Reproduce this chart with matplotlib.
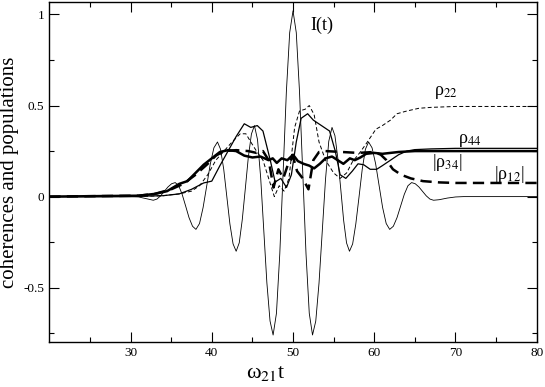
import matplotlib
matplotlib.use("Agg")
import matplotlib.pyplot as plt

plt.rcParams["font.family"] = ["Liberation Serif", "DejaVu Serif"]
plt.rcParams["mathtext.fontset"] = "stix"

# I(t): thin solid field trace
T_I = [20, 30, 31, 32, 32.8, 33.25, 33.7, 34.15, 34.6, 35.05, 35.5,
       35.93, 36.35, 36.78, 37.2, 37.63, 38.05,
       38.49, 38.93, 39.38, 39.82, 40.26, 40.7,
       41.08, 41.47, 41.85, 42.23, 42.62, 43.0,
       43.38, 43.75, 44.13, 44.5, 44.88, 45.25,
       45.63, 46.02, 46.4, 46.78, 47.17, 47.55,
       47.96, 48.37, 48.78, 49.18, 49.59, 50.0,
       50.4, 50.8, 51.2, 51.6, 52.0, 52.4,
       52.8, 53.2, 53.6, 54.0, 54.4, 54.8,
       55.16, 55.52, 55.88, 56.23, 56.59, 56.95,
       57.34, 57.73, 58.13, 58.52, 58.91, 59.3,
       59.73, 60.17, 60.6, 61.03, 61.47, 61.9,
       62.35, 62.8, 63.25, 63.7, 64.15, 64.6,
       65.05, 65.5, 65.95, 66.4, 66.85, 67.3,
       68, 69, 70, 71, 80]
I_T = [0, 0, -0.002, -0.012, -0.02, -0.0135, 0.0043, 0.0285, 0.0528, 0.0705, 0.077,
       0.0598, 0.0127, -0.0515, -0.1158, -0.1628, -0.18,
       -0.1478, -0.06, 0.06, 0.18, 0.268, 0.30,
       0.2598, 0.15, 0.0, -0.15, -0.2598, -0.30,
       -0.2538, -0.1275, 0.045, 0.2175, 0.3438, 0.39,
       0.313, 0.1025, -0.185, -0.4725, -0.683, -0.76,
       -0.6407, -0.315, 0.13, 0.575, 0.9007, 1.02,
       0.9007, 0.575, 0.13, -0.315, -0.6407, -0.76,
       -0.6836, -0.475, -0.19, 0.095, 0.3036, 0.38,
       0.3344, 0.21, 0.04, -0.13, -0.2544, -0.30,
       -0.2598, -0.15, 0.0, 0.15, 0.2598, 0.30,
       0.268, 0.18, 0.06, -0.06, -0.1478, -0.18,
       -0.1628, -0.1158, -0.0515, 0.0127, 0.0598, 0.077,
       0.0705, 0.0528, 0.0285, 0.0043, -0.0135, -0.02,
       -0.017, -0.008, -0.002, 0.0, 0.0]

# rho_22: thin dashed
T_R22 = [20, 32, 34, 36, 37.5, 38.5, 39.5, 40.5, 41.5, 42.5, 43.5, 44.2, 44.8,
         45.5, 46.3, 47, 47.7, 48.3, 48.9, 49.5, 50.2, 50.8, 51.5, 52, 52.6,
         53.2, 54, 55, 55.8, 56.6, 57.3, 58.2, 59, 59.6, 60.2, 61, 62, 62.8,
         64, 65.5, 67, 70, 80]
R22 = [0, 0.002, 0.005, 0.015, 0.03, 0.06, 0.12, 0.2, 0.25, 0.3, 0.345, 0.345, 0.3,
       0.25, 0.2, 0.1, 0.0, 0.06, 0.03, 0.1, 0.38, 0.47, 0.48, 0.5, 0.45,
       0.3, 0.2, 0.13, 0.1, 0.13, 0.19, 0.24, 0.29, 0.33, 0.37, 0.39, 0.42, 0.455,
       0.47, 0.485, 0.49, 0.495, 0.495]

# rho_44: thin solid
T_R44 = [20, 30, 32, 34, 36, 37.5, 39, 40, 41, 42, 43, 44, 44.8, 45.6, 46.3,
         47.2, 47.8, 48.5, 49.2, 49.8, 50.4, 51, 51.8, 52.5, 53.5, 54.5, 55.2,
         55.8, 56.5, 57.3, 58, 58.7, 59.5, 60.3, 61, 62, 63, 64, 65, 67, 70, 80]
R44 = [0, 0, 0.003, 0.005, 0.015, 0.04, 0.075, 0.085, 0.17, 0.25, 0.33, 0.40, 0.38, 0.39, 0.36,
       0.2, 0.08, 0.1, 0.05, 0.12, 0.3, 0.43, 0.455, 0.42, 0.39, 0.36, 0.25,
       0.12, 0.1, 0.14, 0.18, 0.175, 0.15, 0.15, 0.17, 0.2, 0.23, 0.25, 0.258, 0.262, 0.265, 0.265]

# |rho_34|: thick solid
T_R34 = [20, 31, 33, 34.5, 36, 37, 38, 39, 40, 41, 42, 43, 44, 45, 46, 47, 47.5,
         48, 48.6, 49.3, 50, 50.6, 51.3, 52, 52.6, 53.3, 54, 54.8, 55.5, 56.2,
         57, 57.6, 58.3, 59, 60, 61, 62, 63, 65, 80]
R34 = [0, 0.005, 0.015, 0.03, 0.07, 0.085, 0.13, 0.175, 0.21, 0.245, 0.255, 0.25, 0.225, 0.215, 0.22, 0.2, 0.21,
       0.185, 0.21, 0.2, 0.23, 0.195, 0.18, 0.17, 0.155, 0.18, 0.21, 0.22, 0.2, 0.18,
       0.21, 0.2, 0.215, 0.235, 0.24, 0.235, 0.24, 0.245, 0.25, 0.25]

# |rho_12|: thick dashed
T_R12 = [20, 31, 33, 35, 36.5, 38, 39.5, 40.5, 41.5, 43, 44.5, 45.5, 46.3, 47, 47.6,
         48.2, 48.8, 49.4, 50, 50.5, 51.2, 51.9, 52.5, 53.2, 54, 56, 58, 60, 60.8,
         61.5, 62.3, 63.3, 64.5, 66, 68, 70, 80]
R12 = [0, 0.005, 0.015, 0.04, 0.07, 0.12, 0.18, 0.225, 0.25, 0.255, 0.25, 0.24, 0.25, 0.2, 0.05,
       0.15, 0.1, 0.18, 0.22, 0.14, 0.1, 0.04, 0.2, 0.245, 0.25, 0.245, 0.24, 0.245, 0.23,
       0.2, 0.15, 0.12, 0.1, 0.085, 0.078, 0.075, 0.075]

X_TICKS = [30, 40, 50, 60, 70, 80]
Y_TICKS = [-0.5, 0, 0.5, 1]
Y_TICK_LABELS = ["-0.5", "0", "0.5", "1"]

fig = plt.figure(figsize=(5.45, 3.87), dpi=100)
ax = fig.add_axes([0.0905, 0.1155, 0.8943, 0.880])

ax.plot(T_I, I_T, color="black", lw=0.6)
ax.plot(T_R22, R22, color="black", lw=0.7, dashes=(4, 2.5))
ax.plot(T_R44, R44, color="black", lw=0.9)
ax.plot(T_R34, R34, color="black", lw=1.8)
ax.plot(T_R12, R12, color="black", lw=1.8, dashes=(4.5, 2.5))

ax.set_xlim(20, 80)
ax.set_ylim(-0.8, 1.07)
ax.set_xticks(X_TICKS)
ax.set_xticks([25, 35, 45, 55, 65, 75], minor=True)
ax.set_yticks(Y_TICKS)
ax.set_yticklabels(Y_TICK_LABELS)
ax.set_yticks([-0.75, -0.25, 0.25, 0.75], minor=True)
ax.tick_params(which="both", direction="in", top=True, right=True,
               labelsize=9.5, width=0.8)
ax.tick_params(which="major", length=7)
ax.tick_params(which="minor", length=3.5)
for sp in ax.spines.values():
    sp.set_linewidth(1.0)

ax.set_ylabel("coherences and populations", fontsize=15, labelpad=3)
ax.set_xlabel("ω$_{21}$t", fontsize=16, labelpad=2)
ax.xaxis.set_label_coords(0.445, -0.065)

ax.text(52.2, 0.94, "I(t)", fontsize=13, va="center")
ax.text(67.3, 0.57, "ρ$_{22}$", fontsize=13, va="center")
ax.text(70.3, 0.31, "ρ$_{44}$", fontsize=13, va="center")
ax.text(67.1, 0.185, "|ρ$_{34}$|", fontsize=13, va="center")
ax.text(74.8, 0.12, "|ρ$_{12}$|", fontsize=13, va="center")

fig.savefig("out.png", dpi=100)
